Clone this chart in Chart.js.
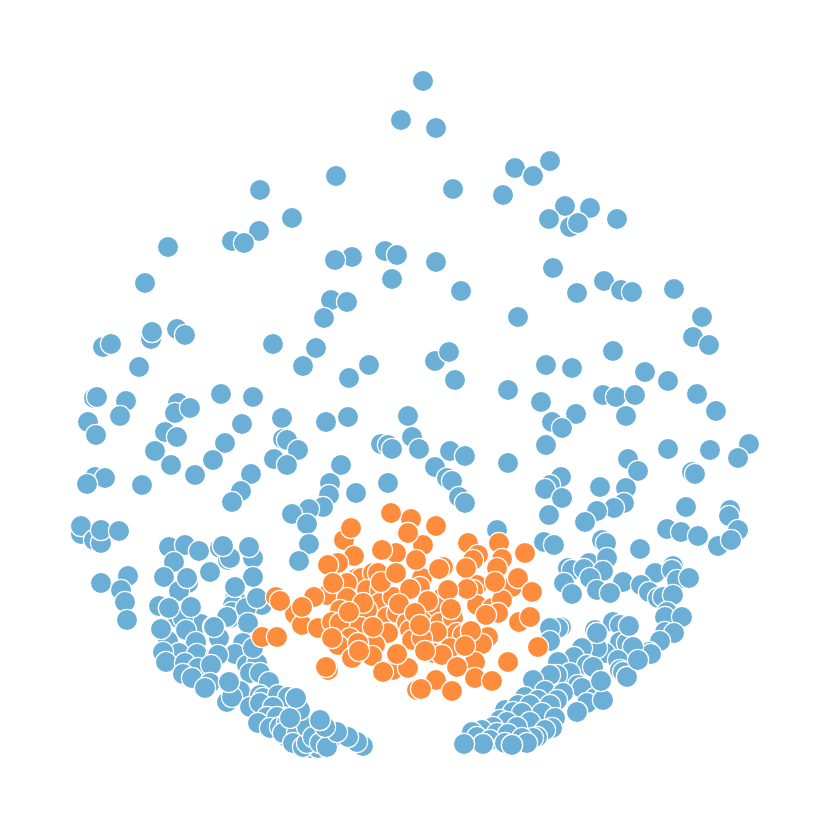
<!DOCTYPE html>
<html>
<head>
<meta charset="utf-8">
<script src="https://cdn.jsdelivr.net/npm/chart.js@4"></script>
<style>
html, body { margin: 0; padding: 0; background: #fff; }
#wrap { width: 830px; height: 826px; }
</style>
</head>
<body>
<div id="wrap"><canvas id="scatterChart"></canvas></div>
<script>
// Pontos [x, y]
const blueTop = [[423,81],[401,120],[436,128],[550,161],[515,168],[533,176],[336,176],[453,189],[260,190],[503,195],[565,206],[590,208],[549,219],[617,219],[292,218],[570,227],[578,223],[259,231],[232,241],[244,243],[168,247],[385,251],[397,255],[352,257],[335,260],[436,262],[553,268],[392,279],[604,281],[145,283],[621,290],[632,292],[674,289],[461,291],[577,293],[331,300],[347,302],[518,317],[702,317],[324,318],[151,339],[152,332],[177,329],[185,335],[103,347],[111,344],[693,337],[709,345],[273,344],[316,348],[435,361],[449,352],[613,351],[369,365],[303,366],[546,365],[572,368],[139,367],[645,372],[349,378],[455,380],[668,381],[508,390],[697,394],[221,394],[253,397],[603,395],[616,397],[635,395],[94,398],[97,397],[126,401],[541,402],[178,403],[175,413],[190,408],[716,411],[120,416],[576,414],[626,416],[282,418],[348,417],[408,416],[88,422],[326,422],[242,424],[552,422],[562,428]];
const blueMiddle = [[96,435],[165,432],[177,437],[283,439],[287,440],[225,443],[412,437],[381,444],[388,445],[392,449],[419,449],[546,445],[450,451],[298,450],[155,451],[465,456],[668,449],[710,450],[749,444],[738,458],[274,459],[287,465],[213,460],[628,459],[508,463],[171,465],[341,465],[435,467],[638,471],[195,475],[692,472],[695,474],[251,474],[95,477],[105,478],[87,484],[142,485],[447,478],[452,481],[388,483],[330,483],[561,477],[550,485],[545,489],[241,491],[600,487],[626,488],[356,493],[329,495],[562,498],[459,497],[465,503],[232,502],[624,503],[614,508],[597,511],[686,507],[730,510],[323,507],[309,509],[292,514],[549,515],[585,522],[729,516],[307,524],[667,529],[681,532],[738,530],[698,536],[81,534],[81,526],[94,540],[101,543],[101,530],[119,531],[497,530],[718,546],[731,540],[544,542],[554,545],[309,544],[299,561],[640,549],[101,583],[128,576],[121,590],[125,602],[127,620]];
const blueDense = [[505,710],[510,716],[515,718],[525,718],[535,712],[540,722],[532,727],[525,728],[512,730],[503,728],[495,735],[487,735],[500,738],[515,738],[520,733],[540,730],[530,732],[548,722],[266,690],[272,700],[268,705],[275,712],[280,700],[285,708],[292,705],[282,714],[293,712],[298,720],[285,722],[276,724],[272,722],[290,728],[295,725],[302,722],[310,730],[300,735],[305,737],[315,742],[322,738],[330,740],[288,738],[300,745],[310,748],[318,748]];
const blueRight = [[602,540],[606,543],[589,563],[607,558],[568,568],[572,570],[584,569],[603,571],[590,578],[564,583],[572,594],[597,590],[610,593],[623,582],[655,573],[673,566],[672,570],[689,578],[677,580],[641,585],[649,592],[658,598],[663,597],[673,595],[667,612],[665,617],[682,617],[665,632],[674,633],[660,641],[649,652],[651,654],[638,660],[561,627],[558,628],[550,628],[550,641],[595,630],[597,633],[613,622],[620,625],[629,626],[620,642],[627,643],[633,647],[605,653],[597,648],[582,648],[574,657],[558,662],[618,660],[620,670],[623,672],[627,677],[587,665],[593,667],[570,673],[557,675],[550,675],[533,680],[545,691],[601,681],[578,685],[582,688],[525,697],[563,693],[557,700],[595,698],[603,700],[587,703],[538,700],[518,705],[530,705],[550,705],[542,713],[555,718],[577,712],[513,712],[522,713],[500,720],[507,722],[530,722],[517,727],[493,727],[482,730],[472,732],[552,728],[545,730],[477,737],[497,733],[508,734],[490,740],[537,737],[533,738],[522,738],[527,743],[505,743],[464,744],[483,744],[512,745]];
const blueLeft = [[169,547],[185,545],[199,551],[220,548],[223,546],[249,547],[174,562],[253,558],[228,560],[230,558],[210,572],[164,577],[188,583],[187,578],[179,591],[253,577],[235,587],[159,606],[169,608],[191,607],[262,605],[257,598],[235,598],[233,605],[232,612],[230,618],[246,608],[227,617],[248,623],[201,624],[213,627],[215,628],[178,618],[183,618],[186,630],[161,629],[168,641],[196,642],[219,638],[243,643],[254,648],[235,654],[179,653],[197,654],[163,652],[216,656],[218,655],[166,662],[185,663],[198,668],[211,665],[183,674],[192,678],[210,683],[205,688],[247,665],[257,663],[250,673],[260,673],[269,682],[240,691],[229,682],[227,702],[232,697],[260,695],[263,698],[278,695],[288,697],[296,698],[250,707],[260,703],[273,707],[267,717],[277,717],[258,723],[270,728],[280,727],[287,723],[283,733],[297,733],[293,743],[303,747],[307,743],[307,727],[313,737],[320,743],[327,747],[300,710],[290,718],[363,746],[357,742],[348,737],[337,732],[325,727],[320,720]];
const blueFront = [[229,682],[296,698],[320,720],[257,598],[161,629],[169,608],[191,607],[214,627],[253,648],[235,587],[187,578],[223,546],[249,547],[512,745],[483,744],[464,744],[577,712],[603,700],[601,681],[627,677],[610,593],[689,578],[629,626],[597,633],[638,660]];
const orangeBack = [[411,519],[391,513],[408,533],[436,526],[344,540],[423,545],[468,543],[499,543],[354,556],[396,553],[338,563],[478,555],[473,560],[502,559],[497,568],[443,567],[357,578],[361,578],[373,573],[378,573],[422,578],[347,583],[367,590],[380,590],[420,587],[410,589],[477,585],[512,587],[473,590],[327,595],[314,597],[276,597],[295,614],[347,598],[380,603],[393,597],[428,601],[443,597],[340,610],[477,605],[492,608],[502,600],[498,613],[519,622],[302,625],[318,628],[332,622],[340,623],[367,610],[387,617],[397,613],[407,623],[427,617],[437,607],[440,623],[453,618],[457,633],[360,627],[388,633],[420,625],[410,630],[437,632],[463,635],[471,631],[488,637],[262,637],[350,638],[338,645],[375,645],[412,640],[422,638],[397,654],[433,653],[450,648],[482,644],[352,658],[372,656],[442,655],[475,662],[328,670],[393,670],[383,672],[408,668],[417,690]];
const orangeFront = [[391,513],[408,533],[351,528],[382,550],[328,565],[333,583],[280,601],[302,607],[277,637],[326,667],[439,569],[466,568],[416,560],[495,582],[518,578],[525,553],[467,589],[448,590],[410,589],[381,582],[396,573],[363,603],[349,612],[332,638],[358,643],[359,651],[373,627],[399,604],[428,601],[415,613],[420,625],[451,609],[486,615],[530,617],[532,592],[471,631],[465,646],[425,651],[397,654],[457,667],[538,647],[508,662],[436,680],[475,678],[492,681],[452,691],[421,689]];

const blueData = [...blueTop, ...blueMiddle, ...blueDense, ...blueRight, ...blueLeft, ...blueFront];
const orangeData = [...orangeBack, ...orangeFront];

const toPoints = (list) => list.map(function(p) { return { x: p[0], y: p[1] }; });

const ctx_scatter = document.getElementById('scatterChart').getContext('2d');

new Chart(ctx_scatter, {
    type: 'scatter',
    data: {
        datasets: [
            {
                label: 'Laranja',
                data: toPoints(orangeData),
                backgroundColor: '#fd8d3c',
                borderColor: '#ffffff',
                borderWidth: 1.2,
                pointRadius: 10.6,
                order: 0
            },
            {
                label: 'Azul',
                data: toPoints(blueData),
                backgroundColor: '#6baed6',
                borderColor: '#ffffff',
                borderWidth: 1.2,
                pointRadius: 10.6,
                order: 1
            }
        ]
    },
    options: {
        responsive: true,
        maintainAspectRatio: false,
        animation: false,
        layout: { padding: 0, autoPadding: false },
        plugins: { legend: { display: false }, tooltip: { enabled: false } },
        scales: {
            x: { display: false, min: 0, max: 830 },
            y: { display: false, min: 0, max: 826, reverse: true }
        }
    }
});
</script>
</body>
</html>
